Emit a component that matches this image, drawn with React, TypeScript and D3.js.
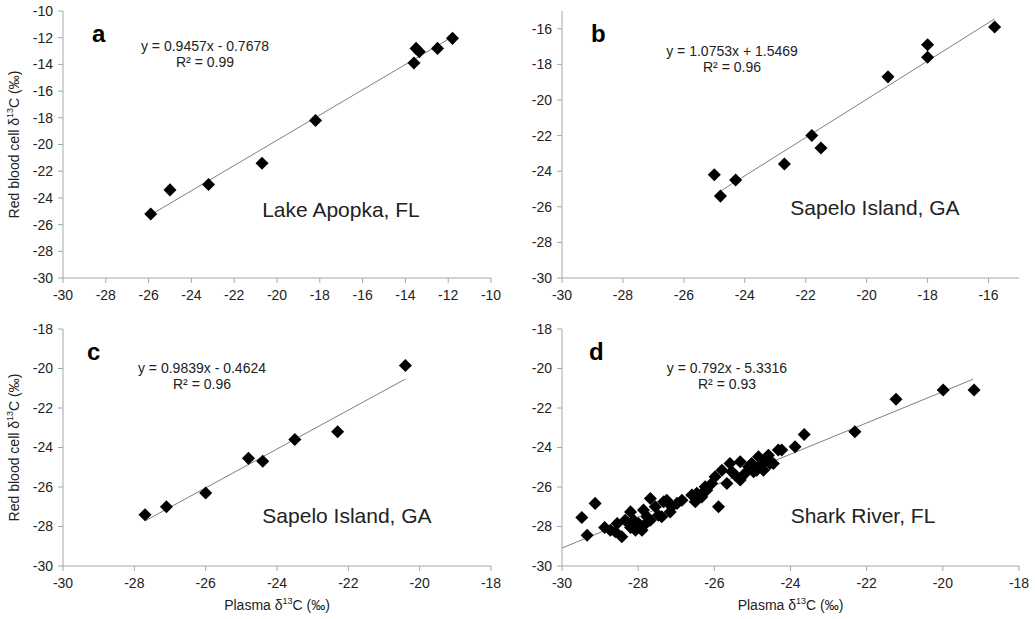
import React from "react";
import * as d3 from "d3";

// ---- Data ----
const panelAX = [-25.9, -25.0, -23.2, -20.7, -18.2, -13.6, -13.5, -13.35, -12.5, -11.8];
const panelAY = [-25.2, -23.4, -23.0, -21.4, -18.2, -13.9, -12.8, -13.05, -12.8, -12.05];

const panelBX = [-25.0, -24.8, -24.3, -22.7, -21.8, -21.5, -19.3, -18.0, -18.0, -15.8];
const panelBY = [-24.2, -25.4, -24.5, -23.6, -22.0, -22.7, -18.7, -16.9, -17.6, -15.9];

const panelCX = [-27.7, -27.1, -26.0, -24.8, -24.4, -23.5, -22.3, -20.4];
const panelCY = [-27.4, -27.0, -26.3, -24.55, -24.7, -23.6, -23.2, -19.85];

const panelDX = [
  -29.48, -29.13, -29.34, -28.88, -28.73, -28.6, -28.55, -28.43, -28.2, -28.2,
  -28.12, -27.99, -27.9, -27.86, -27.77, -27.68, -27.68, -27.8, -27.38, -27.33,
  -27.25, -27.16, -27.12, -26.98, -26.59, -26.5, -26.46, -26.28, -26.24, -26.2,
  -26.07, -25.98, -25.89, -25.8, -25.67, -25.59, -25.54, -25.32, -25.32, -25.19,
  -25.1, -25.02, -24.89, -24.84, -24.76, -24.71, -24.62, -24.54, -24.45, -24.32,
  -24.23, -23.88, -23.64, -22.31, -21.23, -19.99, -19.18,
  -28.34, -28.07, -27.55, -27.47, -26.85, -26.33, -25.45, -24.97, -24.58, -24.8,
];
const panelDY = [
  -27.54, -26.83, -28.44, -28.05, -28.19, -28.27, -27.85, -28.52, -27.26, -28.05,
  -27.68, -27.85, -28.19, -27.17, -27.51, -26.58, -27.68, -27.85, -27.51, -26.75,
  -26.67, -27.26, -27.0, -26.83, -26.41, -26.75, -26.32, -26.24, -25.99, -26.16,
  -25.82, -25.48, -27.0, -25.15, -25.82, -24.81, -25.23, -24.72, -25.65, -25.31,
  -24.98, -24.81, -25.15, -24.47, -24.81, -25.15, -24.64, -24.81, -24.81, -24.13,
  -24.13, -23.96, -23.34, -23.2, -21.56, -21.09, -21.09,
  -27.68, -28.19, -27.0, -27.43, -26.67, -26.5, -25.4, -25.23, -24.39, -24.9,
];

const xTicksA = [-30, -28, -26, -24, -22, -20, -18, -16, -14, -12, -10];
const yTicksA = [-30, -28, -26, -24, -22, -20, -18, -16, -14, -12, -10];
const xTicksB = [-30, -28, -26, -24, -22, -20, -18, -16];
const yTicksB = [-30, -28, -26, -24, -22, -20, -18, -16];
const xTicksCD = [-30, -28, -26, -24, -22, -20, -18];
const yTicksCD = [-30, -28, -26, -24, -22, -20, -18];

const FONT = "'Liberation Sans', Arial, sans-serif";

interface PanelProps {
  xs: number[];
  ys: number[];
  xDomain: [number, number];
  yDomain: [number, number];
  xRange: [number, number];
  yRange: [number, number];
  xTicks: number[];
  yTicks: number[];
  slope: number;
  intercept: number;
  lineFrom: number;
  lineTo: number;
  letter: string;
  letterPos: [number, number];
  eq: string;
  r2: string;
  eqPos: [number, number];
  site: string;
  sitePos: [number, number];
  showYTitle: boolean;
  showXTitle: boolean;
}

function Panel(p: PanelProps) {
  const x = d3.scaleLinear().domain(p.xDomain).range(p.xRange);
  const y = d3.scaleLinear().domain(p.yDomain).range(p.yRange);
  const axisColor = "#a6a6a6";
  const sym = d3.symbol().type(d3.symbolSquare).size(85)()!;
  const lineGen = d3
    .line<number>()
    .x((d) => x(d))
    .y((d) => y(p.slope * d + p.intercept));
  const [x0, x1] = p.xRange;
  const [y0, y1] = p.yRange; // y0 bottom, y1 top
  return (
    <g>
      {/* axes */}
      <line x1={x0} x2={x0} y1={y1} y2={y0} stroke={axisColor} strokeWidth={1} />
      <line x1={x0} x2={x1} y1={y0} y2={y0} stroke={axisColor} strokeWidth={1} />
      {p.yTicks.map((t) => (
        <g key={"y" + t}>
          <line x1={x0 - 5} x2={x0} y1={y(t)} y2={y(t)} stroke={axisColor} />
          <text
            x={x0 - 10}
            y={y(t)}
            dy="0.35em"
            textAnchor="end"
            fontFamily={FONT}
            fontSize={14}
            fill="#222"
          >
            {t}
          </text>
        </g>
      ))}
      {p.xTicks.map((t) => (
        <g key={"x" + t}>
          <line x1={x(t)} x2={x(t)} y1={y0} y2={y0 + 5} stroke={axisColor} />
          <text
            x={x(t)}
            y={y0 + 22}
            textAnchor="middle"
            fontFamily={FONT}
            fontSize={14}
            fill="#222"
          >
            {t}
          </text>
        </g>
      ))}
      {/* regression line */}
      <path
        d={lineGen([p.lineFrom, p.lineTo])!}
        stroke="#7f7f7f"
        strokeWidth={1}
        fill="none"
      />
      {/* points */}
      {p.xs.map((xv, i) => (
        <path
          key={"p" + i}
          d={sym}
          transform={`translate(${x(xv)},${y(p.ys[i])}) rotate(45)`}
          fill="#000"
        />
      ))}
      {/* annotations */}
      <text
        x={p.letterPos[0]}
        y={p.letterPos[1]}
        fontFamily={FONT}
        fontWeight="bold"
        fontSize={24}
        fill="#000"
      >
        {p.letter}
      </text>
      <text
        x={p.eqPos[0]}
        y={p.eqPos[1]}
        textAnchor="middle"
        fontFamily={FONT}
        fontSize={14}
        fill="#222"
      >
        {p.eq}
      </text>
      <text
        x={p.eqPos[0]}
        y={p.eqPos[1] + 16}
        textAnchor="middle"
        fontFamily={FONT}
        fontSize={14}
        fill="#222"
      >
        {p.r2}
      </text>
      <text
        x={p.sitePos[0]}
        y={p.sitePos[1]}
        textAnchor="middle"
        fontFamily={FONT}
        fontSize={21}
        fill="#222"
      >
        {p.site}
      </text>
      {p.showYTitle && (
        <text
          transform={`translate(${x0 - 44},${(y0 + y1) / 2}) rotate(-90)`}
          textAnchor="middle"
          fontFamily={FONT}
          fontSize={14}
          fill="#222"
        >
          Red blood cell δ
          <tspan fontSize={9} dy={-6}>13</tspan>
          <tspan dy={6}>C (‰)</tspan>
        </text>
      )}
      {p.showXTitle && (
        <text
          x={(x0 + x1) / 2}
          y={y0 + 44}
          textAnchor="middle"
          fontFamily={FONT}
          fontSize={14}
          fill="#222"
        >
          Plasma δ
          <tspan fontSize={9} dy={-6}>13</tspan>
          <tspan dy={6}>C (‰)</tspan>
        </text>
      )}
    </g>
  );
}

export default function App() {
  return (
    <svg
      width={1035}
      height={619}
      style={{ position: "absolute", left: 0, top: 0, background: "#fff" }}
    >
      <rect width={1035} height={619} fill="#fff" />
      <Panel
        xs={panelAX}
        ys={panelAY}
        xDomain={[-30, -10]}
        yDomain={[-30, -10]}
        xRange={[63, 491]}
        yRange={[278, 11]}
        xTicks={xTicksA}
        yTicks={yTicksA}
        slope={0.9457}
        intercept={-0.7678}
        lineFrom={-25.9}
        lineTo={-11.8}
        letter="a"
        letterPos={[92, 42]}
        eq="y = 0.9457x - 0.7678"
        r2="R² = 0.99"
        eqPos={[205, 51]}
        site="Lake Apopka, FL"
        sitePos={[341, 217]}
        showYTitle={true}
        showXTitle={false}
      />
      <Panel
        xs={panelBX}
        ys={panelBY}
        xDomain={[-30, -15]}
        yDomain={[-30, -15]}
        xRange={[562, 1019]}
        yRange={[278, 11]}
        xTicks={xTicksB}
        yTicks={yTicksB}
        slope={1.0753}
        intercept={1.5469}
        lineFrom={-24.9}
        lineTo={-15.8}
        letter="b"
        letterPos={[591, 42]}
        eq="y = 1.0753x + 1.5469"
        r2="R² = 0.96"
        eqPos={[732, 56]}
        site="Sapelo Island, GA"
        sitePos={[875, 215]}
        showYTitle={false}
        showXTitle={false}
      />
      <Panel
        xs={panelCX}
        ys={panelCY}
        xDomain={[-30, -18]}
        yDomain={[-30, -18]}
        xRange={[63, 491]}
        yRange={[566, 329]}
        xTicks={xTicksCD}
        yTicks={yTicksCD}
        slope={0.9839}
        intercept={-0.4624}
        lineFrom={-27.7}
        lineTo={-20.4}
        letter="c"
        letterPos={[87, 360]}
        eq="y = 0.9839x - 0.4624"
        r2="R² = 0.96"
        eqPos={[202, 373]}
        site="Sapelo Island, GA"
        sitePos={[347, 523]}
        showYTitle={true}
        showXTitle={true}
      />
      <Panel
        xs={panelDX}
        ys={panelDY}
        xDomain={[-30, -18]}
        yDomain={[-30, -18]}
        xRange={[562, 1019]}
        yRange={[566, 329]}
        xTicks={xTicksCD}
        yTicks={yTicksCD}
        slope={0.792}
        intercept={-5.3316}
        lineFrom={-30}
        lineTo={-19.2}
        letter="d"
        letterPos={[589, 360]}
        eq="y = 0.792x - 5.3316"
        r2="R² = 0.93"
        eqPos={[727, 373]}
        site="Shark River, FL"
        sitePos={[863, 523]}
        showYTitle={false}
        showXTitle={true}
      />
    </svg>
  );
}
